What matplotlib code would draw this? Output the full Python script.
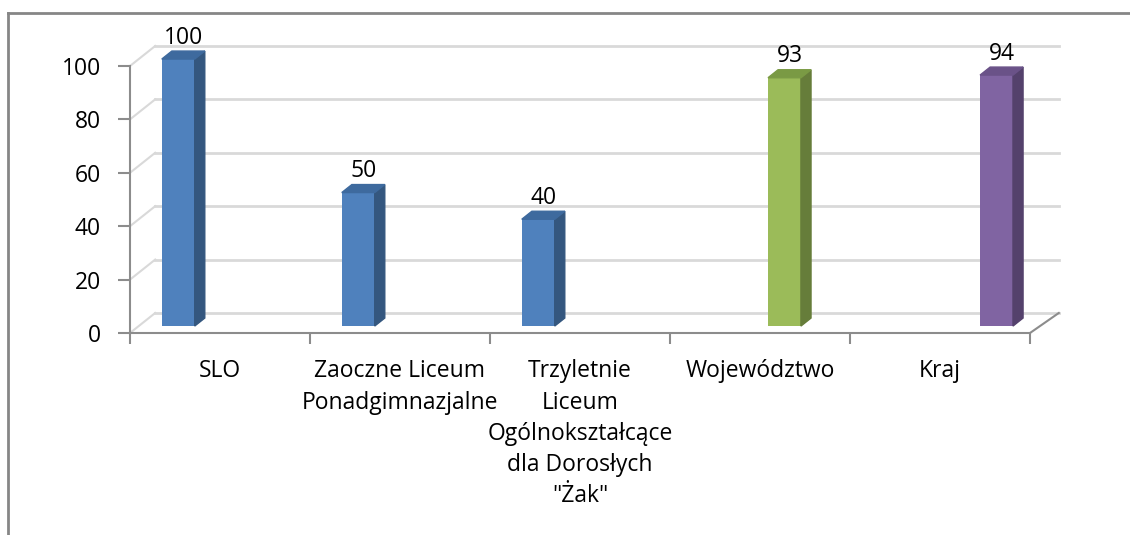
import matplotlib
matplotlib.use("Agg")
import matplotlib.pyplot as plt
from matplotlib.patches import Polygon
from matplotlib.lines import Line2D

# data
categories = ["SLO", "Zaoczne Liceum\nPonadgimnazjalne",
              "Trzyletnie\nLiceum\nOgólnokształcące\ndla Dorosłych\n\"Żak\"",
              "Województwo", "Kraj"]
values = [100, 50, 40, 93, 94]
series_of = [0, 0, 0, 1, 2]
y_ticks = [0, 20, 40, 60, 80, 100]

# front, side, top colours for each series
front_col = ["#4F81BD", "#9BBB59", "#8064A2"]
side_col = ["#34577F", "#667D3A", "#54416C"]
top_col = ["#3E6A9E", "#7A9A44", "#6A5288"]
series_off = [-0.232, 0.136, 0.314]

plt.rcParams["font.family"] = ["Open Sans", "DejaVu Sans"]

W, H = 1130, 535
fig = plt.figure(figsize=(W / 100, H / 100), dpi=100)
ax = fig.add_axes([130 / W, (H - 333) / H, 900 / W, 267 / H])
ax.set_xlim(0, 5)
ax.set_ylim(0, 100)

axis_grey = "#8C8C8C"
grid_grey = "#D9D9D9"
fs = 16.5

# 3d wall offsets (in data units)
wdx, wdy = 0.14, 7.5
# bar depth offset and bar side depth
bdy = 2.6
sdx, sdy = 0.056, 3.0
bw = 0.183

# back wall gridlines + left wall diagonals
for v in y_ticks:
    ax.add_line(Line2D([wdx, 5 + wdx + 0.02], [v + wdy, v + wdy], color=grid_grey,
                       lw=2, zorder=1, clip_on=False))
    ax.add_line(Line2D([0, wdx], [v, v + wdy], color=grid_grey, lw=1.5,
                       zorder=1, clip_on=False))
# right floor edge
ax.add_line(Line2D([5, 5 + wdx + 0.02], [0, wdy], color=axis_grey, lw=1.5,
                   zorder=2, clip_on=False))

# bars
for i, (v, s) in enumerate(zip(values, series_of)):
    x0 = i + 0.5 + series_off[s] - bw / 2
    x1 = x0 + bw
    b = bdy
    t = bdy + v
    ax.bar(x0, v, width=bw, bottom=b, align="edge", color=front_col[s],
           zorder=3, clip_on=False)
    ax.add_patch(Polygon([(x1, b), (x1, t), (x1 + sdx, t + sdy), (x1 + sdx, b + sdy)],
                         closed=True, color=side_col[s], zorder=3, clip_on=False))
    ax.add_patch(Polygon([(x0, t), (x1, t), (x1 + sdx, t + sdy), (x0 + sdx, t + sdy)],
                         closed=True, color=top_col[s], zorder=3, clip_on=False))
    ax.text(x0 + bw / 2 + sdx / 2, t + sdy + 5, str(v), ha="center", va="center",
            fontsize=fs, color="#000000")

# axes styling
for sp in ["top", "right"]:
    ax.spines[sp].set_visible(False)
for sp in ["left", "bottom"]:
    ax.spines[sp].set_color(axis_grey)
    ax.spines[sp].set_linewidth(1.5)
    ax.spines[sp].set_zorder(4)

ax.set_yticks(y_ticks)
ax.tick_params(axis="y", length=9, width=1.5, color=axis_grey, labelsize=fs,
               pad=12, labelcolor="#000000")
ax.set_xticks(range(6))
ax.set_xticklabels([])
ax.tick_params(axis="x", which="major", length=8, width=1.5, color=axis_grey)
ax.set_xticks([i + 0.5 for i in range(5)], minor=True)
ax.set_xticklabels(categories, minor=True, fontsize=fs, linespacing=1.4)
ax.tick_params(axis="x", which="minor", length=0, pad=19, labelcolor="#000000")
ax.patch.set_visible(False)

# outer chart frame
fig.add_artist(Line2D([8 / W, 8 / W], [0, (H - 13) / H], color="#868686", lw=2))
fig.add_artist(Line2D([8 / W, 1], [(H - 13) / H, (H - 13) / H], color="#868686", lw=2))

fig.savefig("out.png", dpi=100)
